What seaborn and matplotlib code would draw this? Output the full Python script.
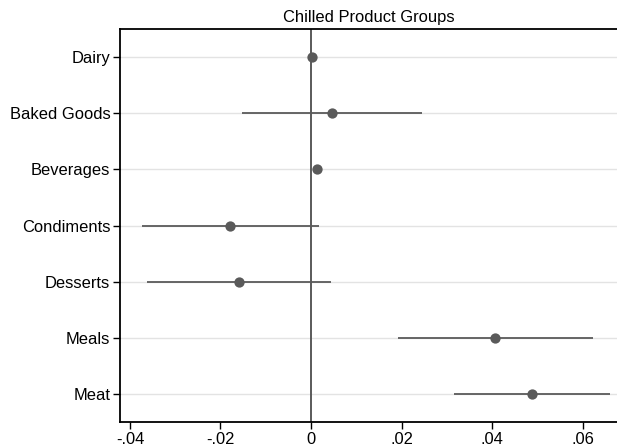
import matplotlib
matplotlib.use("Agg")
import matplotlib.pyplot as plt
import seaborn as sns
import pandas as pd

groups = ["Dairy", "Baked Goods", "Beverages", "Condiments", "Desserts", "Meals", "Meat"]
estimate = [0.0003, 0.0046, 0.0013, -0.0179, -0.0158, 0.0407, 0.0489]
ci_low = [0.0000, -0.0153, 0.0010, -0.0374, -0.0362, 0.0193, 0.0316]
ci_high = [0.0006, 0.0246, 0.0016, 0.0018, 0.0044, 0.0622, 0.0661]
x_ticks = [-0.04, -0.02, 0.0, 0.02, 0.04, 0.06]
x_tick_labels = ["-.04", "-.02", "0", ".02", ".04", ".06"]
title = "Chilled Product Groups"

df = pd.DataFrame({"group": groups, "estimate": estimate,
                   "lo": ci_low, "hi": ci_high})

sns.set_style("white")
plt.rcParams["font.family"] = ["Liberation Sans", "DejaVu Sans"]

fig = plt.figure(figsize=(6.17, 4.46), dpi=100)
ax = fig.add_axes([120 / 617, 24 / 446, 1 - 120 / 617, (422 - 29) / 446])

mark = "#5a5a5a"
ypos = list(range(len(groups)))

# light horizontal guides at each group
for y in ypos:
    ax.axhline(y, color="#e3e3e3", lw=1.0, zorder=0)

# zero reference line
ax.axvline(0, color=mark, lw=1.4, zorder=1)

# confidence intervals
ax.hlines(ypos, df["lo"], df["hi"], color=mark, lw=1.3, zorder=2)

# point estimates
sns.scatterplot(data=df, x="estimate", y=ypos, ax=ax, color=mark,
                s=55, edgecolor=mark, linewidth=0, zorder=3, legend=False)

ax.set_yticks(ypos)
ax.set_yticklabels(groups)
ax.set_ylim(6.49, -0.49)
ax.set_xlim(-0.0422, 0.0676)
ax.set_xticks(x_ticks)
ax.set_xticklabels(x_tick_labels)
ax.set_xlabel("")
ax.set_ylabel("")

ax.tick_params(axis="both", labelsize=11.9, colors="black", length=5,
               width=1.0, direction="out", bottom=True, left=True, pad=2)
for side in ["left", "bottom", "top"]:
    ax.spines[side].set_color("black")
    ax.spines[side].set_linewidth(1.3)
ax.spines["right"].set_visible(False)

ax.set_title(title, fontsize=11.9, pad=5, color="black")

fig.savefig("out.png", dpi=100)
